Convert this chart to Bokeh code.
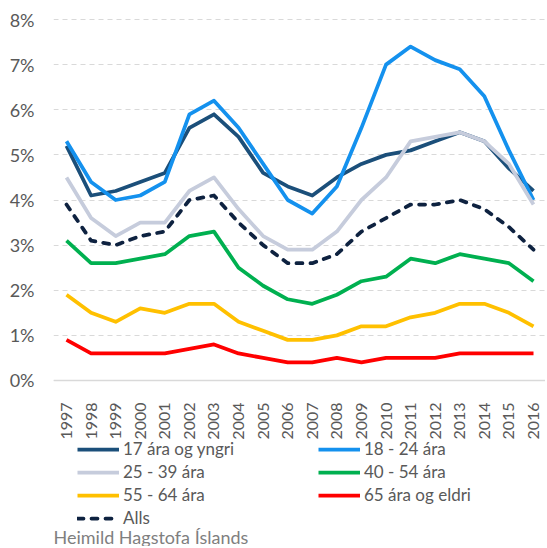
from bokeh.plotting import figure
from bokeh.models import FixedTicker, Legend, LegendItem, Label, Range1d
from bokeh.embed import file_html
from bokeh.resources import INLINE

years = list(range(1997, 2017))
s17 = [5.2, 4.1, 4.2, 4.4, 4.6, 5.6, 5.9, 5.4, 4.6, 4.3, 4.1, 4.5, 4.8, 5.0, 5.1, 5.3, 5.5, 5.3, 4.7, 4.2]
s18 = [5.3, 4.4, 4.0, 4.1, 4.4, 5.9, 6.2, 5.6, 4.8, 4.0, 3.7, 4.3, 5.6, 7.0, 7.4, 7.1, 6.9, 6.3, 5.1, 4.0]
s25 = [4.5, 3.6, 3.2, 3.5, 3.5, 4.2, 4.5, 3.8, 3.2, 2.9, 2.9, 3.3, 4.0, 4.5, 5.3, 5.4, 5.5, 5.3, 4.8, 3.9]
s40 = [3.1, 2.6, 2.6, 2.7, 2.8, 3.2, 3.3, 2.5, 2.1, 1.8, 1.7, 1.9, 2.2, 2.3, 2.7, 2.6, 2.8, 2.7, 2.6, 2.2]
s55 = [1.9, 1.5, 1.3, 1.6, 1.5, 1.7, 1.7, 1.3, 1.1, 0.9, 0.9, 1.0, 1.2, 1.2, 1.4, 1.5, 1.7, 1.7, 1.5, 1.2]
s65 = [0.9, 0.6, 0.6, 0.6, 0.6, 0.7, 0.8, 0.6, 0.5, 0.4, 0.4, 0.5, 0.4, 0.5, 0.5, 0.5, 0.6, 0.6, 0.6, 0.6]
alls = [3.9, 3.1, 3.0, 3.2, 3.3, 4.0, 4.1, 3.5, 3.0, 2.6, 2.6, 2.8, 3.3, 3.6, 3.9, 3.9, 4.0, 3.8, 3.4, 2.9]

names = ["17 ára og yngri", "18 - 24 ára", "25 - 39 ára", "40 - 54 ára", "55 - 64 ára", "65 ára og eldri", "Alls"]
y_ticks = [0, 1, 2, 3, 4, 5, 6, 7, 8]
y_labels = ["0%", "1%", "2%", "3%", "4%", "5%", "6%", "7%", "8%"]
source_text = "Heimild Hagstofa Íslands"

FONT = "Lato"
TXT = "#595959"

p = figure(width=545, height=546, output_backend="svg", toolbar_location=None,
           x_range=Range1d(1996.471, 2016.488), y_range=Range1d(-3.679, 8.377),
           min_border_left=53, min_border_right=0, min_border_top=2, min_border_bottom=0)
p.outline_line_color = None
p.background_fill_color = "white"

series = [s17, s18, s25, s40, s55, s65, alls]
colors = ["#1B4F7A", "#1491EE", "#C6CCDC", "#00B050", "#FFC000", "#FF0000", "#0E2240"]
renderers = []
for vals, col, nm in zip(series, colors, names):
    if nm == "Alls":
        r = p.line(years, vals, line_color=col, line_width=3.75, line_dash="6 8",
                   line_cap="round", line_join="round")
    else:
        r = p.line(years, vals, line_color=col, line_width=3.75, line_join="round")
    renderers.append(r)

# axes
p.yaxis.ticker = FixedTicker(ticks=y_ticks)
p.yaxis.major_label_overrides = {t: l for t, l in zip(y_ticks, y_labels)}
p.yaxis.axis_line_color = None
p.yaxis.major_tick_line_color = None
p.yaxis.minor_tick_line_color = None
p.yaxis.major_label_text_font = FONT
p.yaxis.major_label_text_font_size = "18px"
p.yaxis.major_label_text_color = TXT
p.yaxis.major_label_standoff = 13

p.xaxis.fixed_location = 0
p.xaxis.ticker = FixedTicker(ticks=years)
p.xaxis.major_label_orientation = 1.5708
p.xaxis.axis_line_color = "#D9D9D9"
p.xaxis.axis_line_width = 1.5
p.xaxis.major_tick_line_color = None
p.xaxis.minor_tick_line_color = None
p.xaxis.major_label_text_font = FONT
p.xaxis.major_label_text_font_size = "16px"
p.xaxis.major_label_text_color = TXT
p.xaxis.major_label_standoff = 16

p.xgrid.grid_line_color = None
p.ygrid.grid_line_color = "#D9D9D9"
p.ygrid.grid_line_dash = "5 4"
p.ygrid.grid_line_width = 1.2

items = [LegendItem(label=nm, renderers=[r]) for nm, r in zip(names, renderers)]
legend = Legend(items=items, orientation="horizontal", ncols=2, location=(24, 18),
                label_text_font=FONT, label_text_font_size="17px", label_text_color=TXT,
                glyph_width=42, glyph_height=14, label_width=193, label_height=18,
                label_standoff=4, spacing=2, padding=2, margin=0,
                border_line_color=None, background_fill_alpha=0)
p.add_layout(legend)

lab = Label(x=0, y=-1, x_units="screen", y_units="screen", text=source_text,
            text_font=FONT, text_font_size="18px", text_color="#7F7F7F")
p.add_layout(lab)

open("out.html", "w").write(file_html(p, INLINE))
